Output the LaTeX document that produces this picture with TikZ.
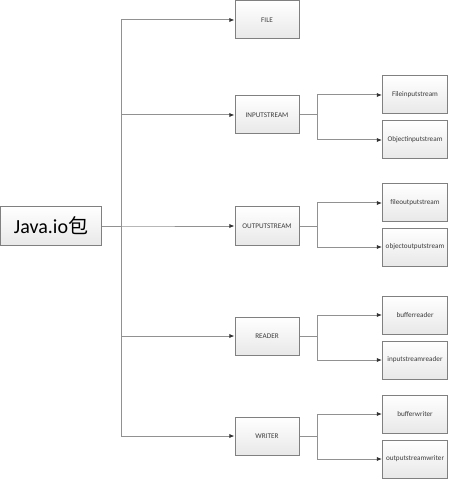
\documentclass[tikz,border=0pt]{standalone}
\usepackage{fontspec}
\setmainfont{Carlito}
\newfontfamily\cjk{Noto Sans CJK SC}
\usetikzlibrary{arrows.meta}
\definecolor{boxgray}{RGB}{128,128,128}
\definecolor{linegray}{RGB}{145,145,145}
\definecolor{textgray}{RGB}{60,60,60}

\begin{document}
\begin{tikzpicture}[x=0.5pt, y=-0.5pt,
    box/.style={draw=boxgray, line width=0.5pt, top color=white, bottom color=black!9,
        minimum width=32pt, minimum height=19pt, inner sep=0pt,
        font=\fontsize{3.6pt}{4pt}\selectfont, text=textgray},
    leaf/.style={box, minimum width=32.5pt},
    conn/.style={draw=linegray, line width=0.5pt, -{Latex[length=2.6pt, width=2.2pt, color=black!80]}}]
    \useasboundingbox (0,0) rectangle (448,480);

    % Root
    \node[box, minimum width=50.5pt, minimum height=19.5pt, text=black,
        font=\fontsize{10pt}{12pt}\selectfont] (java) at (51,226) {Java.io{\cjk 包}};

    % Second level
    \node[box] (file) at (267,20) {FILE};
    \node[box] (inputstream) at (267,115) {INPUTSTREAM};
    \node[box] (outputstream) at (267,226) {OUTPUTSTREAM};
    \node[box] (reader) at (267,336) {READER};
    \node[box] (writer) at (267,436) {WRITER};

    % Leaves
    \node[leaf] (fis) at (415,95) {Fileinputstream};
    \node[leaf] (ois) at (415,140) {Objectinputstream};
    \node[leaf] (fos) at (415,203) {fileoutputstream};
    \node[leaf] (oos) at (415,247) {objectoutputstream};
    \node[leaf] (br) at (415,315) {bufferreader};
    \node[leaf] (isr) at (415,360) {inputstreamreader};
    \node[leaf] (bw) at (415,414) {bufferwriter};
    \node[leaf] (osw) at (415,459) {outputstreamwriter};

    % Trunk
    \foreach \m in {file,inputstream,outputstream,reader,writer}
        \draw[conn] (java.east) -- ++(19,0) |- (\m.west);

    % Branches
    \foreach \m/\a/\b in {inputstream/fis/ois, outputstream/fos/oos, reader/br/isr, writer/bw/osw} {
        \draw[conn] (\m.east) -- ++(18,0) |- (\a.west);
        \draw[conn] (\m.east) -- ++(18,0) |- (\b.west);
    }
\end{tikzpicture}
\end{document}
